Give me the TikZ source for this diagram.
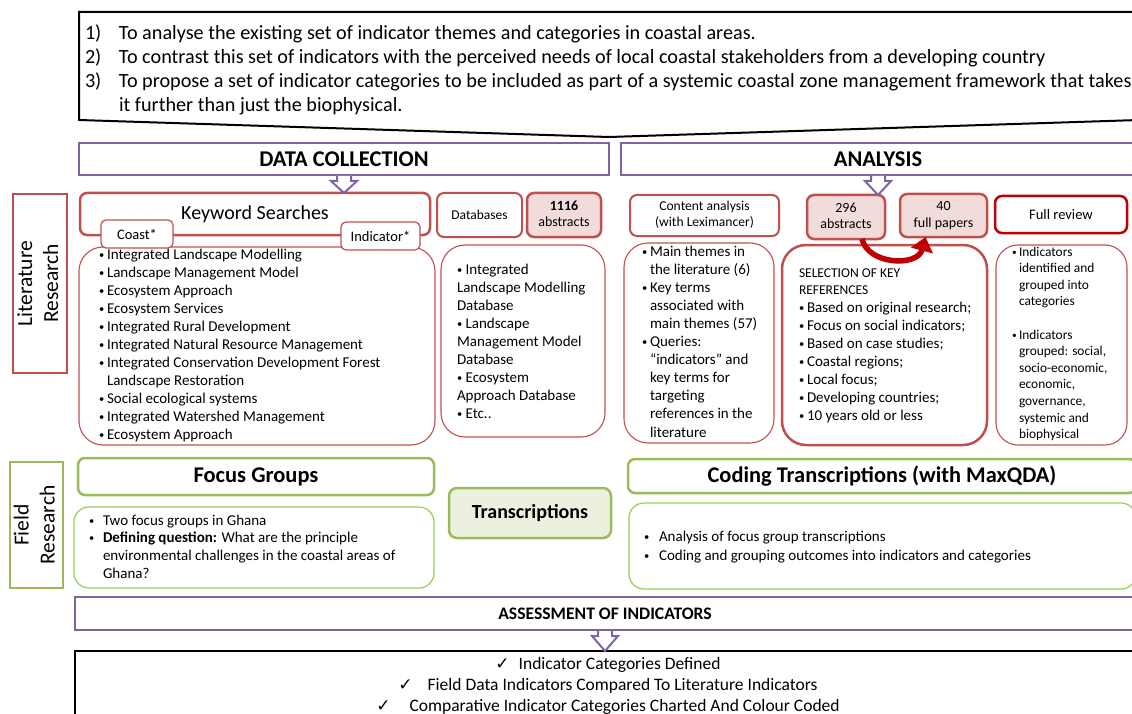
\documentclass[tikz,border=0pt]{standalone}
\usepackage{fontspec}
\setmainfont{Carlito}
\newfontfamily\checkfont{DejaVu Sans}
\usetikzlibrary{arrows.meta,calc}

\definecolor{cred}{HTML}{C0504D}
\definecolor{cdred}{HTML}{C00000}
\definecolor{cpurple}{HTML}{8064A2}
\definecolor{cgreen}{HTML}{9BBB59}
\definecolor{clgreen}{HTML}{92D050}
\definecolor{cpink}{HTML}{F2DCDB}
\definecolor{cpalegreen}{HTML}{EBF1DE}

\newcommand\setfs[2]{\fontsize{#1}{#2}\selectfont}
\newcommand\smallbul{\raisebox{0.12ex}{\scalebox{0.7}{•}}}
\newcommand\bulw[1]{\makebox[#1][l]{\smallbul}}
\newcommand\linesL[1]{\begin{tabular}[t]{@{}l@{}}#1\end{tabular}}
\newcommand\linesC[1]{\begin{tabular}[t]{@{}c@{}}#1\end{tabular}}
\newcommand\goalno[1]{\makebox[34pt][l]{#1}}
\newcommand\tick{{\checkfont\fontsize{17}{18}\selectfont ✓}}

% outlined purple block arrow from the bottom of one box to the top of another
\newcommand\blockarrow[2]{%
  \draw[barrow] let \p1=(#1.south), \p2=(#2.north) in
    (\x1-7pt,\y1-1pt) -- (\x1-7pt,\y1-6pt) -- (\x1-13pt,\y1-6pt) -- (\x1,\y2)
    -- (\x1+13pt,\y1-6pt) -- (\x1+7pt,\y1-6pt) -- (\x1+7pt,\y1-1pt);}

\begin{document}
\begin{tikzpicture}[x=1pt,y=-1pt,
  every node/.style={inner sep=0pt, outer sep=0pt},
  nw/.style={anchor=north west},
  hdr/.style={draw=cpurple, line width=2pt, fill=white, font=\bfseries\setfs{22.5}{26}},
  barrow/.style={draw=cpurple, line width=2pt, fill=white, line join=miter},
  redbox/.style={draw=cred, line width=2pt, rounded corners=7pt, fill=white},
  tab/.style={draw=cred, line width=1.2pt, rounded corners=5pt, fill=white, font=\setfs{14.5}{17}},
  redlist/.style={draw=cred, line width=1.1pt, rounded corners=24pt},
  pinkbox/.style={redbox, fill=cpink, font=\setfs{14}{16.5}},
  greenbox/.style={draw=cgreen, line width=2.5pt, rounded corners=7pt, fill=white},
  greenlist/.style={draw=clgreen, line width=1.2pt, rounded corners=15pt},
  sidelabel/.style={line width=2.5pt, rotate=90, font=\setfs{21.5}{26}},
  txt/.style={anchor=base west}
]
\useasboundingbox (0,0) rectangle (1132,714);
\clip (0,0) rectangle (1132,714);

% aims callout
\draw[line width=2pt, line join=miter] (79,12) -- (1139,12) -- (1139,120) -- (609,137) -- (79,120) -- cycle;
\node[txt, font=\setfs{20.2}{23.7}] (goals) at (85,40) {\linesL{%
  \goalno{1)}To analyse the existing set of indicator themes and categories in coastal areas.\\
  \goalno{2)}To contrast this set of indicators with the perceived needs of local coastal stakeholders from a developing country\\
  \goalno{3)}To propose a set of indicator categories to be included as part of a systemic coastal zone management framework that takes\\
  \hspace*{34pt}it further than just the biophysical.}};

% stage headers
\node[hdr, nw, minimum width=530, minimum height=32] (dc) at (79,143) {DATA COLLECTION};
\node[hdr, nw, minimum width=514, minimum height=32] (an) at (621,143) {ANALYSIS};

% literature research row
\node[sidelabel, draw=cred, minimum width=179, minimum height=54] (lit) at (40,283.5) {\linesC{Literature\\Research}};

\node[redlist, nw, minimum width=356, minimum height=198] (kwl) at (79,247) {};
\node[redbox, line width=2.5pt, nw, minimum width=350, minimum height=42, font=\setfs{20}{24}] (kw) at (80,193) {Keyword Searches};
\node[tab, nw, minimum width=72, minimum height=28] (coast) at (101,220) {Coast*};
\node[tab, nw, minimum width=79, minimum height=28] (ind) at (341,222) {Indicator*};
\node[txt, font=\setfs{15}{18}] (kwt) at (99,259) {\linesL{%
  \bulw{8pt}Integrated Landscape Modelling\\
  \bulw{8pt}Landscape Management Model\\
  \bulw{8pt}Ecosystem Approach\\
  \bulw{8pt}Ecosystem Services\\
  \bulw{8pt}Integrated Rural Development\\
  \bulw{8pt}Integrated Natural Resource Management\\
  \bulw{8pt}Integrated Conservation Development Forest\\
  \hspace*{8pt}Landscape Restoration\\
  \bulw{8pt}Social ecological systems\\
  \bulw{8pt}Integrated Watershed Management\\
  \bulw{8pt}Ecosystem Approach}};

\node[redbox, nw, minimum width=85, minimum height=44, font=\setfs{13.5}{16}] (db) at (437,193) {Databases};
\node[pinkbox, line width=2.5pt, nw, minimum width=74, minimum height=44] (ab1116) at (527,193) {\linesC{\textbf{1116}\\abstracts}};
\node[redlist, nw, minimum width=164, minimum height=192] (dbl) at (441,245) {};
\node[txt, font=\setfs{15}{18}] (dbt) at (457,274) {\linesL{%
  \smallbul\ Integrated\\
  Landscape Modelling\\
  Database\\
  \smallbul\ Landscape\\
  Management Model\\
  Database\\
  \smallbul\ Ecosystem\\
  Approach Database\\
  \smallbul\ Etc..}};

\node[redbox, nw, minimum width=149, minimum height=41, font=\setfs{13.6}{16}] (ca) at (630,195) {\linesC{Content analysis\\(with Leximancer)}};
\node[redlist, nw, minimum width=150, minimum height=200] (cal) at (624,243) {};
\node[txt, font=\setfs{15}{18.1}] (cat) at (642,256) {\linesL{%
  \bulw{8pt}Main themes in\\
  \hspace*{8pt}the literature (6)\\
  \bulw{8pt}Key terms\\
  \hspace*{8pt}associated with\\
  \hspace*{8pt}main themes (57)\\
  \bulw{8pt}Queries:\\
  \hspace*{8pt}“indicators” and\\
  \hspace*{8pt}key terms for\\
  \hspace*{8pt}targeting\\
  \hspace*{8pt}references in the\\
  \hspace*{8pt}literature}};

\node[pinkbox, line width=2.5pt, nw, minimum width=78, minimum height=44] (ab296) at (807,195) {\linesC{296\\abstracts}};
\node[pinkbox, line width=2.5pt, nw, minimum width=87, minimum height=43] (fp40) at (900,194) {\linesC{40\\full papers}};
\node[draw=cred, line width=2.5pt, rounded corners=24pt, nw, minimum width=205, minimum height=200] (sel) at (782,245) {};
\node[txt, font=\setfs{15}{17.9}] (selt) at (799,277) {\linesL{%
  {\setfs{13.5}{17.9}SELECTION OF KEY}\\
  {\setfs{13.5}{17.9}REFERENCES}\\
  \bulw{8pt}Based on original research;\\
  \bulw{8pt}Focus on social indicators;\\
  \bulw{8pt}Based on case studies;\\
  \bulw{8pt}Coastal regions;\\
  \bulw{8pt}Local focus;\\
  \bulw{8pt}Developing countries;\\
  \bulw{8pt}10 years old or less}};
\draw[line width=5.5pt, cdred, -{Triangle[length=14pt,width=22pt]}]
  ([xshift=16pt]ab296.south) .. controls +(6,26) and +(-8,30) .. ([xshift=-18pt]fp40.south);

\node[draw=cdred, line width=2.5pt, rounded corners=7pt, nw, minimum width=132, minimum height=37, font=\setfs{14.5}{17}] (fr) at (995,196) {Full review};
\node[redlist, rounded corners=22pt, nw, minimum width=131, minimum height=200] (frl) at (996,245) {};
\node[txt, font=\setfs{13.4}{16.6}] (frt) at (1012,256) {\linesL{%
  \bulw{7pt}Indicators\\
  \hspace*{7pt}identified and\\
  \hspace*{7pt}grouped into\\
  \hspace*{7pt}categories\\
  \\
  \bulw{7pt}Indicators\\
  \hspace*{7pt}grouped: social,\\
  \hspace*{7pt}socio-economic,\\
  \hspace*{7pt}economic,\\
  \hspace*{7pt}governance,\\
  \hspace*{7pt}systemic and\\
  \hspace*{7pt}biophysical}};

% field research row
\node[sidelabel, draw=cgreen, minimum width=126, minimum height=53] (field) at (36.5,525) {\linesC{Field\\Research}};
\node[greenbox, nw, minimum width=356, minimum height=37, font=\bfseries\setfs{22.5}{26}] (fg) at (78,458) {Focus Groups};
\node[greenlist, nw, minimum width=360, minimum height=81] (fgl) at (74,507) {};
\node[txt, font=\setfs{15}{17.7}] (fgt) at (89,525) {\linesL{%
  \bulw{14pt}Two focus groups in Ghana\\
  \bulw{14pt}\textbf{Defining question:} What are the principle\\
  \hspace*{14pt}environmental challenges in the coastal areas of\\
  \hspace*{14pt}Ghana?}};
\node[greenbox, fill=cpalegreen, rounded corners=8pt, nw, minimum width=162, minimum height=50, font=\bfseries\setfs{20}{24}] (tr) at (449,488) {Transcriptions};
\node[greenbox, nw, minimum width=508, minimum height=34, font=\bfseries\setfs{22.4}{26}] (ct) at (628,459) {Coding Transcriptions (with MaxQDA)};
\node[greenlist, nw, minimum width=507, minimum height=86] (ctl) at (629,503) {};
\node[txt, font=\setfs{15}{19}] (ctt) at (644,541) {\linesL{%
  \bulw{15pt}Analysis of focus group transcriptions\\
  \bulw{15pt}Coding and grouping outcomes into indicators and categories}};

% assessment
\node[hdr, nw, minimum width=1060, minimum height=33, font=\bfseries\setfs{17.6}{20}] (as) at (75,597) {ASSESSMENT OF INDICATORS};
\node[draw=black, line width=2pt, nw, minimum width=1066, minimum height=90] (out) at (75,651) {};
\node[anchor=base, font=\setfs{17.5}{21}] (outt) at (608,669) {\linesC{%
  \tick\hspace{9pt}Indicator Categories Defined\\
  \tick\hspace{15pt}Field Data Indicators Compared To Literature Indicators\\
  \tick\hspace{19pt}Comparative Indicator Categories Charted And Colour Coded}};

% flow arrows
\blockarrow{dc}{kw}
\blockarrow{an}{ab296}
\blockarrow{as}{out}
\end{tikzpicture}
\end{document}
